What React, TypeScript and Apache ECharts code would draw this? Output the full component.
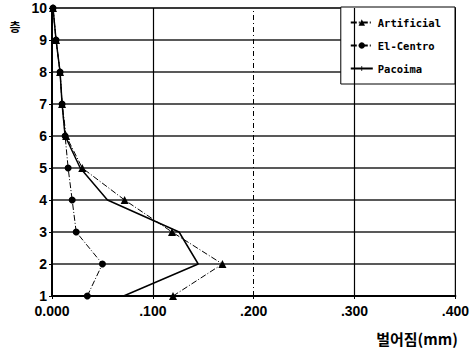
import React, { useEffect, useRef } from "react";
import * as echarts from "echarts";

const floors = [1, 2, 3, 4, 5, 6, 7, 8, 9, 10];
const artificial = [0.120, 0.169, 0.119, 0.072, 0.030, 0.014, 0.010, 0.008, 0.004, 0.001];
const elCentro = [0.035, 0.050, 0.024, 0.020, 0.016, 0.013, 0.010, 0.008, 0.004, 0.001];
const pacoima = [0.071, 0.145, 0.126, 0.055, 0.028, 0.013, 0.010, 0.008, 0.004, 0.001];
const seriesNames = ["Artificial", "El-Centro", "Pacoima"];
const xGridSolid = [0.1, 0.3];
const xGridDashed = [0.2];

const fmtX = (v: number) => (v === 0 ? "0.000" : "." + String(Math.round(v * 1000)).padStart(3, "0"));

export default function App() {
  const ref = useRef<HTMLDivElement>(null);
  useEffect(() => {
    const chart = echarts.init(ref.current!, null, { renderer: "svg" });
    const toPts = (arr: number[]) => arr.map((v, i) => [v, floors[i]]);
    const dashDot = [6, 2, 1, 2];
    chart.setOption({
      animation: false,
      backgroundColor: "#fff",
      textStyle: { fontFamily: "Liberation Sans, Arial, sans-serif" },
      grid: { left: 52, top: 8, right: 16, bottom: 53, show: true, borderColor: "#000", borderWidth: 1.2, backgroundColor: "transparent" },
      xAxis: {
        type: "value",
        min: 0,
        max: 0.4,
        interval: 0.1,
        axisLine: { show: true, lineStyle: { color: "#000", width: 2 } },
        axisTick: { show: true, length: 3, lineStyle: { color: "#000" } },
        axisLabel: { formatter: fmtX, color: "#000", fontSize: 14, fontWeight: "bold", margin: 8 },
        splitLine: { show: false },
      },
      yAxis: {
        type: "value",
        min: 1,
        max: 10,
        interval: 1,
        axisLine: { show: true, lineStyle: { color: "#000", width: 2 } },
        axisTick: { show: true, length: 3, lineStyle: { color: "#000" } },
        axisLabel: { color: "#000", fontSize: 14, fontWeight: "bold", margin: 5 },
        splitLine: { show: true, lineStyle: { color: "#222", width: 1.5 } },
      },
      legend: {
        orient: "vertical",
        right: 17,
        top: 7,
        itemWidth: 22,
        itemHeight: 8,
        itemGap: 12,
        backgroundColor: "#fff",
        borderColor: "#000",
        borderWidth: 1,
        padding: [10, 14, 10, 9],
        textStyle: { fontFamily: "DejaVu Sans Mono, monospace", fontSize: 10.5, color: "#000", fontWeight: "bold" },
        data: seriesNames,
      },
      series: [
        {
          name: seriesNames[0],
          type: "line",
          data: toPts(artificial),
          symbol: "triangle",
          symbolSize: 8,
          itemStyle: { color: "#000" },
          lineStyle: { color: "#000", width: 1, type: dashDot },
          markLine: {
            silent: true,
            symbol: "none",
            label: { show: false },
            data: [
              ...xGridSolid.map((x) => ({ xAxis: x, lineStyle: { color: "#000", width: 1.2, type: "solid" } })),
              ...xGridDashed.map((x) => ({ xAxis: x, lineStyle: { color: "#000", width: 1, type: [5, 3, 1, 3] } })),
            ],
          },
          z: 3,
        },
        {
          name: seriesNames[1],
          type: "line",
          data: toPts(elCentro),
          symbol: "circle",
          symbolSize: 7,
          itemStyle: { color: "#000" },
          lineStyle: { color: "#000", width: 1, type: dashDot },
          z: 3,
        },
        {
          name: seriesNames[2],
          type: "line",
          data: toPts(pacoima),
          symbol: "path://M0 0L0 0M10 10L10 10M4.4 1H5.6V9H4.4Z",
          symbolSize: 6,
          showSymbol: false,
          itemStyle: { color: "#000" },
          lineStyle: { color: "#000", width: 1.5, type: "solid" },
          z: 3,
        },
      ],
      graphic: [
        {
          type: "text",
          x: 15,
          y: 26,
          style: { text: "층", fontSize: 12, fontWeight: "bold", fill: "#000", align: "center", verticalAlign: "middle", fontFamily: "Noto Sans CJK KR" },
        },
        {
          type: "text",
          x: 417,
          y: 338,
          style: { text: "벌어짐(mm)", fontSize: 15, fontWeight: "bold", fill: "#000", align: "center", verticalAlign: "middle", fontFamily: "Noto Sans CJK KR" },
        },
      ],
    });
    return () => chart.dispose();
  }, []);
  return <div ref={ref} style={{ width: 472, height: 349, position: "absolute", left: 0, top: 0 }} />;
}
